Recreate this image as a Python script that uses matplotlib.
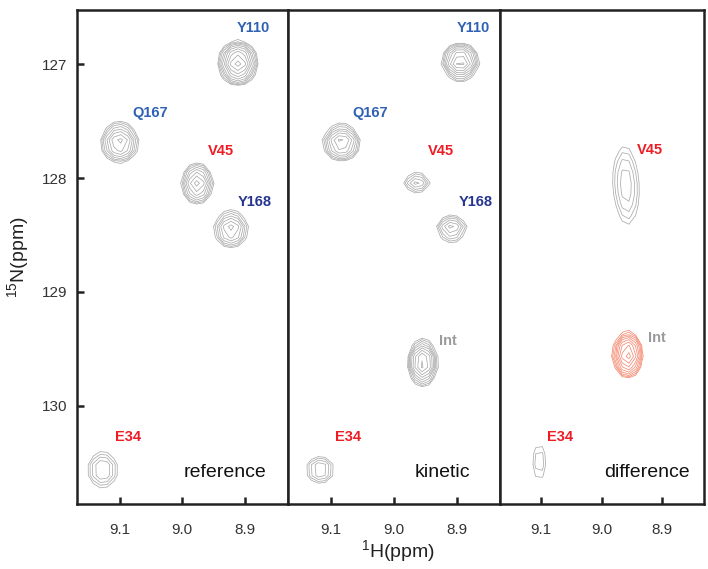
import numpy as np
import matplotlib
matplotlib.use("Agg")
import matplotlib.pyplot as plt

plt.rcParams["font.family"] = ["Liberation Sans", "DejaVu Sans"]
plt.rcParams["mathtext.fontset"] = "custom"
plt.rcParams["mathtext.rm"] = "Liberation Sans"
plt.rcParams["mathtext.default"] = "regular"

# spectra: peak centre (1H, 15N), width (sigma, ppm), amplitude (relative to lowest level)
panel_names = ["reference", "kinetic", "difference"]

ref_x = [8.911, 9.100, 8.976, 8.922, 9.127]
ref_y = [126.99, 127.69, 128.05, 128.45, 130.56]
ref_sx = [0.0154, 0.0165, 0.0139, 0.0159, 0.0169]
ref_sy = [0.094, 0.096, 0.096, 0.093, 0.111]
ref_amp = [8.3, 5.3, 5.3, 4.3, 2.7]

kin_x = [8.894, 9.083, 8.963, 8.908, 8.954, 9.117]
kin_y = [126.98, 127.69, 128.04, 128.44, 129.62, 130.56]
kin_sx = [0.0154, 0.0164, 0.0145, 0.0152, 0.0123, 0.0157]
kin_sy = [0.081, 0.086, 0.065, 0.073, 0.103, 0.080]
kin_amp = [6.7, 5.3, 2.7, 3.4, 6.7, 2.7]

# difference V45 is a broad, slightly tilted ridge: two overlapping components
dif_x = [8.963, 8.956, 8.957, 9.103]
dif_y = [127.95, 128.20, 129.55, 130.49]
dif_sx = [0.016, 0.016, 0.0128, 0.011]
dif_sy = [0.22, 0.22, 0.103, 0.16]
dif_amp = [1.5, 1.3, -6.7, 1.6]

# residue labels
ref_lab = ["Y110", "Q167", "V45", "Y168", "E34"]
ref_lx = [8.886, 9.051, 8.938, 8.884, 9.086]
ref_ly = [126.68, 127.43, 127.76, 128.21, 130.27]

kin_lab = ["Y110", "Q167", "V45", "Y168", "Int", "E34"]
kin_lx = [8.873, 9.037, 8.925, 8.870, 8.914, 9.073]
kin_ly = [126.68, 127.43, 127.76, 128.21, 129.43, 130.27]

dif_lab = ["V45", "Int", "E34"]
dif_lx = [8.921, 8.909, 9.068]
dif_ly = [127.75, 129.40, 130.27]

lab_colors = {"Y110": "#2f62b4", "Q167": "#2f62b4", "Y168": "#26358f",
              "V45": "#ee1c24", "E34": "#ee1c24", "Int": "#9a9a9a"}

xticks = [9.1, 9.0, 8.9]
yticks = [127, 128, 129, 130]

xlim = (9.168, 8.831)
ylim = (130.86, 126.526)

# coarse grid, like real spectrum digitisation
gx = np.arange(8.801, 9.20, 0.011)
gy = np.arange(126.43, 131.0, 0.095)
X, Y = np.meshgrid(gx, gy)


def field(px, py, sx, sy, amp):
    z = np.zeros_like(X)
    for i in range(len(px)):
        z += amp[i] * np.exp(-0.5 * ((X - px[i]) / sx[i]) ** 2
                             - 0.5 * ((Y - py[i]) / sy[i]) ** 2)
    return z


levels = 1.25 ** np.arange(0, 14)

fig = plt.figure(figsize=(7.08, 5.69), dpi=100)
bottom = 1 - 504 / 569
height = 494 / 569
edges = [77, 288, 500, 704]
axes = []
for i in range(3):
    ax = fig.add_axes([edges[i] / 708, bottom, (edges[i + 1] - edges[i]) / 708, height])
    axes.append(ax)

spectra = [(ref_x, ref_y, ref_sx, ref_sy, ref_amp),
           (kin_x, kin_y, kin_sx, kin_sy, kin_amp),
           (dif_x, dif_y, dif_sx, dif_sy, dif_amp)]
labels = [(ref_lab, ref_lx, ref_ly), (kin_lab, kin_lx, kin_ly), (dif_lab, dif_lx, dif_ly)]
name_x = [8.865, 8.879, 8.855]

for i, ax in enumerate(axes):
    z = field(*spectra[i])
    ax.contour(X, Y, z, levels=levels, colors="#ababab", linewidths=0.55)
    if z.min() < -1:
        ax.contour(X, Y, -z, levels=levels, colors="#f58a72", linewidths=0.55)
    for lab, lx, ly in zip(*labels[i]):
        ax.text(lx, ly, lab, color=lab_colors[lab], fontsize=10.5, fontweight="bold",
                ha="center", va="center")
    ax.text(name_x[i], 130.62, panel_names[i], fontsize=14, color="#111111",
            ha="right", va="baseline")
    ax.set_xlim(xlim)
    ax.set_ylim(ylim)
    ax.set_xticks(xticks)
    ax.set_xticklabels(["%.1f" % t for t in xticks])
    ax.tick_params(direction="in", length=5, width=1.8, color="#222222",
                   labelsize=11, labelcolor="#333333")
    ax.tick_params(axis="x", pad=14)
    ax.tick_params(axis="y", pad=7)
    if i == 0:
        ax.set_yticks(yticks)
        ax.set_yticklabels([str(t) for t in yticks])
    else:
        ax.set_yticks([])
    for s in ax.spines.values():
        s.set_linewidth(1.8)
        s.set_color("#222222")

fig.text(18 / 708, 1 - 257 / 569, "$^{15}$N(ppm)", rotation=90, fontsize=14,
         color="#222222", ha="center", va="center")
fig.text(398 / 708, 1 - 551 / 569, "$^{1}$H(ppm)", fontsize=14,
         color="#222222", ha="center", va="center")

fig.savefig("out.png", dpi=100)
